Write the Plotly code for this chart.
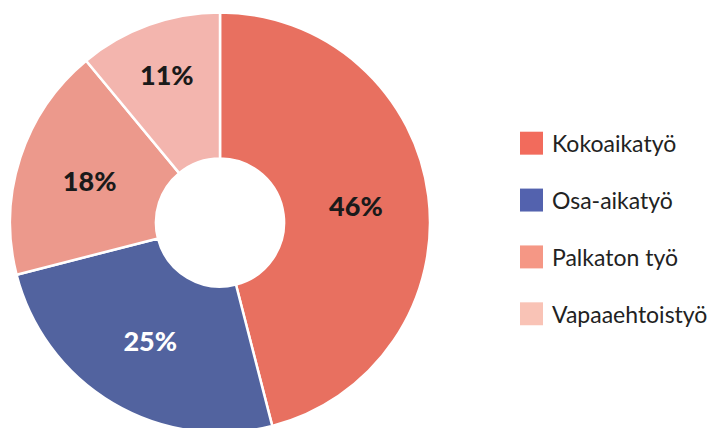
import plotly.graph_objects as go

labels = ["Kokoaikatyö", "Osa-aikatyö", "Palkaton työ", "Vapaaehtoistyö"]
values = [46, 25, 18, 11]
slice_colors = ["#E87060", "#52639F", "#EC998C", "#F3B5AE"]
legend_colors = ["#F26B5C", "#5362AE", "#F59785", "#F9C3B6"]
text_colors = ["#1A1A1A", "#FFFFFF", "#1A1A1A", "#1A1A1A"]

fig = go.Figure()
fig.add_trace(go.Pie(
    labels=labels,
    values=values,
    sort=False,
    direction="clockwise",
    rotation=0,
    hole=0.305,
    marker=dict(colors=slice_colors, line=dict(color="#FFFFFF", width=2.5)),
    texttemplate="%{value}%",
    textposition="inside",
    insidetextorientation="horizontal",
    insidetextfont=dict(family="Lato", size=27, color=text_colors, weight=900),
    domain=dict(x=[2/719, 422/719], y=[0, 1]),
    showlegend=False,
))

# custom legend (layout decoration) built from the label/colour lists
W, H = 719, 428
leg_x0, leg_size, leg_top, leg_step = 512, 23, 134.5, 57
shapes, annotations = [], []
for i, (lab, col) in enumerate(zip(labels, legend_colors)):
    yc = leg_top + i * leg_step
    shapes.append(dict(
        type="rect", xref="paper", yref="paper",
        x0=leg_x0 / W, x1=(leg_x0 + leg_size) / W,
        y0=1 - (yc + leg_size / 2) / H, y1=1 - (yc - leg_size / 2) / H,
        fillcolor=col, line=dict(width=0),
    ))
    annotations.append(dict(
        xref="paper", yref="paper", x=542 / W, y=1 - yc / H,
        xanchor="left", yanchor="middle", showarrow=False, text=lab,
        font=dict(family="Lato", size=23, color="#222222"),
    ))

fig.update_layout(
    width=W, height=H,
    margin=dict(l=0, r=0, t=1, b=0),
    paper_bgcolor="white",
    plot_bgcolor="white",
    shapes=shapes,
    annotations=annotations,
)

fig.write_html("out.html")
